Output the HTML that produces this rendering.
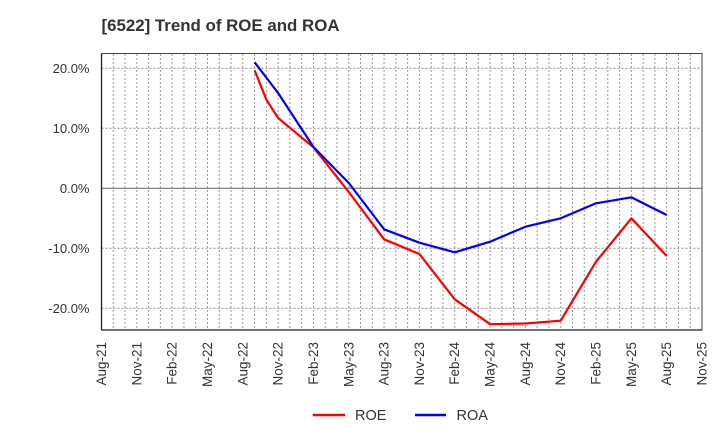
<!DOCTYPE html>
<html>
<head>
<meta charset="utf-8">
<style>
html,body{margin:0;padding:0;background:#fff;}
svg{display:block;}
text{font-family:"Liberation Sans",Arial,sans-serif;fill:#333;}
</style>
</head>
<body>
<svg width="720" height="440" viewBox="0 0 720 440" xmlns="http://www.w3.org/2000/svg">
<rect width="720" height="440" fill="#fff"/>
<text x="101.5" y="31" font-size="16.5" font-weight="bold" textLength="238" lengthAdjust="spacingAndGlyphs">[6522]  Trend of ROE and ROA</text>

<g id="vgrid" stroke="#999" stroke-width="1" stroke-dasharray="2,2">
</g>
<g stroke="#888" stroke-width="1" stroke-dasharray="2,2">
<line x1="101.5" y1="68.3" x2="702" y2="68.3"/>
<line x1="101.5" y1="128.3" x2="702" y2="128.3"/>
<line x1="101.5" y1="248.3" x2="702" y2="248.3"/>
<line x1="101.5" y1="308.3" x2="702" y2="308.3"/>
</g>
<line x1="101.5" y1="188.3" x2="702" y2="188.3" stroke="#777" stroke-width="1.2"/>
<rect x="101.5" y="53.5" width="600.5" height="276.5" fill="none" stroke="#444" stroke-width="1"/>
<line x1="101.5" y1="53.5" x2="101.5" y2="330" stroke="#222" stroke-width="1.3"/>
<line x1="101.5" y1="330" x2="702" y2="330" stroke="#222" stroke-width="1.3"/>

<g font-size="13" text-anchor="end">
<text x="89.5" y="72.9">20.0%</text>
<text x="89.5" y="132.9">10.0%</text>
<text x="89.5" y="192.9">0.0%</text>
<text x="89.5" y="252.9">-10.0%</text>
<text x="89.5" y="312.9">-20.0%</text>
</g>

<g id="xlabels" font-size="13.5" text-anchor="end"></g>

<polyline fill="none" stroke="#ff0000" stroke-width="2.2" stroke-linejoin="round"
points="254.6,70.3 266.4,99.7 278.1,118 313.45,147.3 348.8,192 384.1,239.3 419.4,254 454.75,299.3 490.1,324.2 525.4,323.5 560.7,320.7 596,261.7 631.4,218.3 666.7,256"/>
<polyline fill="none" stroke="#0000ff" stroke-width="2.2" stroke-linejoin="round"
points="254.6,62.3 278.1,93 313.45,147 348.8,183 384.1,229.3 419.4,242.7 454.75,252.3 490.1,241.7 525.4,226.7 560.7,218.3 596,203.3 631.4,197.3 666.7,215"/>

<line x1="312.7" y1="415" x2="345" y2="415" stroke="#ff0000" stroke-width="2.5"/>
<text x="355" y="420" font-size="14.5">ROE</text>
<line x1="415" y1="415" x2="446" y2="415" stroke="#0000ff" stroke-width="2.5"/>
<text x="456.5" y="420" font-size="14.5">ROA</text>
</svg>
<script>
(function(){
var ns="http://www.w3.org/2000/svg";
var g=document.getElementById("vgrid");
for(var m=1;m<51;m++){
 var x=101.5+m*600.5/51;
 var l=document.createElementNS(ns,"line");
 l.setAttribute("x1",x);l.setAttribute("x2",x);
 l.setAttribute("y1",54);l.setAttribute("y2",330);
 g.appendChild(l);
}
var labs=["Aug-21","Nov-21","Feb-22","May-22","Aug-22","Nov-22","Feb-23","May-23","Aug-23","Nov-23","Feb-24","May-24","Aug-24","Nov-24","Feb-25","May-25","Aug-25","Nov-25"];
var xl=document.getElementById("xlabels");
for(var i=0;i<labs.length;i++){
 var x=101.5+i*3*600.5/51+4.5;
 var t=document.createElementNS(ns,"text");
 t.setAttribute("transform","translate("+x+",342) rotate(-90)");
 t.textContent=labs[i];
 xl.appendChild(t);
}
})();
</script>
</body>
</html>
